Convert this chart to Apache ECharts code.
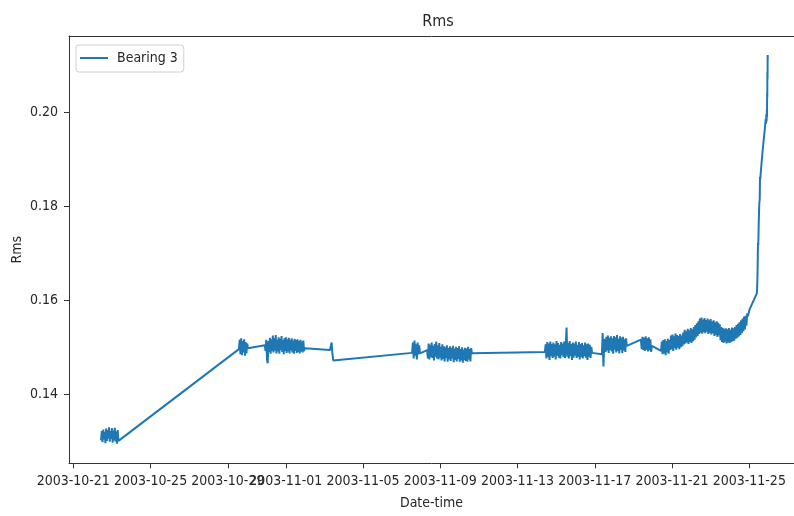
<!DOCTYPE html>
<html>
<head>
<meta charset="utf-8">
<script src="https://cdn.jsdelivr.net/npm/echarts@6/dist/echarts.min.js"></script>
<style>
  html, body { margin: 0; padding: 0; background: #fff; }
  #chart { width: 794px; height: 516px; }
</style>
</head>
<body>
<div id="chart"></div>
<script>
// RMS of bearing 3 vibration, recorded in bursts of 10-minute samples.
const seriesName = 'Bearing 3';

// Time span [first, last sample] of each recording burst (UTC).
const burstSpans = [
  ['2003-10-22T10:30', '2003-10-23T09:00'],
  ['2003-10-29T13:50', '2003-10-30T01:00'],
  ['2003-10-30T22:00', '2003-11-01T23:40'],
  ['2003-11-03T07:00', '2003-11-03T12:00'],
  ['2003-11-07T13:00', '2003-11-07T22:50'],
  ['2003-11-08T07:40', '2003-11-10T15:20'],
  ['2003-11-14T10:00', '2003-11-16T20:40'],
  ['2003-11-17T08:50', '2003-11-18T15:50'],
  ['2003-11-19T09:20', '2003-11-19T23:00'],
  ['2003-11-20T10:20', '2003-11-24T22:20']
];

// RMS readings for each burst, in recording order.
const burst1 = [0.1302, 0.1322, 0.1298, 0.1325, 0.1304, 0.1320, 0.1296, 0.1327, 0.1301, 0.1324, 0.1306, 0.1330, 0.1299,
  0.1322, 0.1305, 0.1328, 0.1297, 0.1323, 0.1302, 0.1329, 0.1300, 0.1321, 0.1295, 0.1324, 0.1301, 0.1300];
const burst2 = [0.1496, 0.1516, 0.1485, 0.1519, 0.1483, 0.1513, 0.1489, 0.1517, 0.1482, 0.1511, 0.1487, 0.1508, 0.1498];
const burst3 = [0.1504, 0.1492, 0.1516, 0.1474, 0.1466, 0.1513, 0.1490, 0.1520, 0.1486, 0.1517, 0.1492, 0.1525, 0.1489,
  0.1519, 0.1493, 0.1526, 0.1487, 0.1516, 0.1491, 0.1521, 0.1486, 0.1518, 0.1494, 0.1524, 0.1490, 0.1515, 0.1485, 0.1519,
  0.1492, 0.1521, 0.1488, 0.1517, 0.1491, 0.1520, 0.1487, 0.1516, 0.1493, 0.1519, 0.1489, 0.1514, 0.1486, 0.1518, 0.1492,
  0.1515, 0.1488, 0.1517, 0.1490, 0.1513, 0.1487, 0.1516, 0.1491, 0.1512, 0.1489, 0.1514, 0.1492, 0.1498];
const burst4 = [0.1494, 0.1493, 0.1510, 0.1486, 0.1472, 0.1470];
const burst5 = [0.1488, 0.1510, 0.1476, 0.1514, 0.1482, 0.1506, 0.1474, 0.1510, 0.1485, 0.1504, 0.1487];
const burst6 = [0.1494, 0.1476, 0.1508, 0.1474, 0.1505, 0.1479, 0.1510, 0.1477, 0.1503, 0.1472, 0.1507, 0.1480, 0.1512,
  0.1476, 0.1504, 0.1474, 0.1509, 0.1478, 0.1501, 0.1472, 0.1506, 0.1475, 0.1502, 0.1470, 0.1500, 0.1477, 0.1504, 0.1469,
  0.1498, 0.1474, 0.1502, 0.1471, 0.1499, 0.1476, 0.1503, 0.1468, 0.1497, 0.1473, 0.1501, 0.1470, 0.1498, 0.1475, 0.1502,
  0.1469, 0.1496, 0.1472, 0.1500, 0.1467, 0.1495, 0.1473, 0.1499, 0.1471, 0.1497, 0.1469, 0.1501, 0.1474, 0.1496, 0.1470,
  0.1498, 0.1487];
const burst7 = [0.1490, 0.1506, 0.1476, 0.1511, 0.1479, 0.1508, 0.1473, 0.1512, 0.1481, 0.1507, 0.1477, 0.1510, 0.1480,
  0.1506, 0.1474, 0.1513, 0.1482, 0.1509, 0.1478, 0.1505, 0.1476, 0.1511, 0.1483, 0.1508, 0.1479, 0.1512, 0.1477, 0.1506,
  0.1542, 0.1480, 0.1509, 0.1476, 0.1513, 0.1481, 0.1507, 0.1473, 0.1510, 0.1478, 0.1508, 0.1482, 0.1512, 0.1477, 0.1505,
  0.1480, 0.1511, 0.1474, 0.1507, 0.1479, 0.1509, 0.1476, 0.1504, 0.1481, 0.1510, 0.1478, 0.1506, 0.1473, 0.1508, 0.1480,
  0.1505, 0.1477, 0.1501, 0.1488];
const burst8 = [0.1485, 0.1530, 0.1459, 0.1500, 0.1518, 0.1490, 0.1522, 0.1493, 0.1525, 0.1488, 0.1520, 0.1494, 0.1523,
  0.1491, 0.1519, 0.1486, 0.1524, 0.1495, 0.1521, 0.1489, 0.1526, 0.1492, 0.1518, 0.1487, 0.1523, 0.1494, 0.1520, 0.1488,
  0.1522, 0.1493, 0.1517, 0.1490, 0.1519, 0.1503];
const burst9 = [0.1516, 0.1496, 0.1522, 0.1494, 0.1520, 0.1492, 0.1523, 0.1495, 0.1519, 0.1491, 0.1521, 0.1493, 0.1517,
  0.1490, 0.1503];
const burst10 = [
  0.1492, 0.1512, 0.1485, 0.1515, 0.1487, 0.1517, 0.1483, 0.1513, 0.1489, 0.1518, 0.1486, 0.1515,
  0.1494, 0.1525, 0.1496, 0.1527, 0.1492, 0.1523, 0.1498, 0.1529, 0.1495, 0.1526, 0.1499, 0.1524, 0.1496, 0.1528, 0.1500,
  0.1525, 0.1502,
  0.1531, 0.1506, 0.1537, 0.1508, 0.1534, 0.1510, 0.1539, 0.1507, 0.1536, 0.1511, 0.1541, 0.1509, 0.1538, 0.1513, 0.1543,
  0.1516,
  0.1547, 0.1521, 0.1551, 0.1524, 0.1555, 0.1528,
  0.1561, 0.1531, 0.1563, 0.1529, 0.1559, 0.1532, 0.1562, 0.1530, 0.1558, 0.1533, 0.1561, 0.1528, 0.1557, 0.1531, 0.1560,
  0.1527, 0.1555, 0.1530,
  0.1557, 0.1524, 0.1553, 0.1526, 0.1555, 0.1522, 0.1552, 0.1525, 0.1549,
  0.1515, 0.1543, 0.1511, 0.1541, 0.1509, 0.1539, 0.1512, 0.1540, 0.1508, 0.1538, 0.1510, 0.1541, 0.1509, 0.1537, 0.1511,
  0.1542, 0.1513, 0.1540, 0.1514, 0.1543,
  0.1518, 0.1547, 0.1520, 0.1550, 0.1523, 0.1553, 0.1526, 0.1557, 0.1530, 0.1561, 0.1534, 0.1565, 0.1538,
  0.1567, 0.1546, 0.1572, 0.1566];
const burstValues = [burst1, burst2, burst3, burst4, burst5, burst6, burst7, burst8, burst9, burst10];

// Final day before failure: individual readings.
const failureTimes = ['2003-11-25T00:15', '2003-11-25T09:30', '2003-11-25T10:10', '2003-11-25T10:50', '2003-11-25T11:10',
  '2003-11-25T11:40', '2003-11-25T12:25', '2003-11-25T12:55', '2003-11-25T13:20', '2003-11-25T13:35', '2003-11-25T15:10',
  '2003-11-25T17:00', '2003-11-25T19:30', '2003-11-25T20:20', '2003-11-25T20:50', '2003-11-25T21:10', '2003-11-25T21:30',
  '2003-11-25T21:50', '2003-11-25T22:00', '2003-11-25T22:10', '2003-11-25T22:20', '2003-11-25T22:30', '2003-11-25T22:40',
  '2003-11-25T22:50', '2003-11-25T23:00'];
const failureValues = [0.1580, 0.1615, 0.1650, 0.1722, 0.1716, 0.1760, 0.1806, 0.1813, 0.1862, 0.1857, 0.1890,
  0.1925, 0.1968, 0.1985, 0.1975, 0.1995, 0.1980, 0.2005, 0.1990, 0.2040, 0.2030, 0.2085, 0.2070, 0.2121, 0.2112];

// Axis ticks.
const dateTicks = ['2003-10-21', '2003-10-25', '2003-10-29', '2003-11-01', '2003-11-05', '2003-11-09',
  '2003-11-13', '2003-11-17', '2003-11-21', '2003-11-25'];
const rmsTicks = [0.14, 0.16, 0.18, 0.20];
const xRange = ['2003-10-20T18:40', '2003-11-27T07:33'];
const yRange = [0.12533, 0.21615];

const toMs = s => Date.parse(s.length > 10 ? s + ':00Z' : s + 'T00:00:00Z');

const data = [];
burstSpans.forEach((span, k) => {
  const vals = burstValues[k];
  const t0 = toMs(span[0]);
  const step = (toMs(span[1]) - t0) / (vals.length - 1);
  vals.forEach((v, i) => data.push([t0 + i * step, v]));
});
failureTimes.forEach((t, i) => data.push([toMs(t), failureValues[i]]));

const pad = n => String(n).padStart(2, '0');
const fmtDate = ms => {
  const d = new Date(ms);
  return d.getUTCFullYear() + '-' + pad(d.getUTCMonth() + 1) + '-' + pad(d.getUTCDate());
};

const FONT = "'DejaVu Sans Condensed', 'DejaVu Sans', sans-serif";
const TEXT = '#262626';
const AXIS = '#333';
const xMin = toMs(xRange[0]), xMax = toMs(xRange[1]);

const chart = echarts.init(document.getElementById('chart'), null, { renderer: 'canvas' });
chart.setOption({
  animation: false,
  backgroundColor: '#fff',
  title: {
    text: 'Rms',
    left: 433,
    top: 9,
    textAlign: 'center',
    textStyle: { fontFamily: FONT, fontSize: 16, fontWeight: 'normal', color: TEXT }
  },
  legend: {
    left: 76,
    top: 45,
    padding: [6, 6, 7, 4],
    itemWidth: 28,
    itemHeight: 2,
    icon: 'rect',
    borderColor: '#d0d0d0',
    borderWidth: 1,
    borderRadius: 3,
    backgroundColor: 'rgba(255,255,255,0.8)',
    textStyle: { fontFamily: FONT, fontSize: 14, color: TEXT, padding: [0, 0, 0, 4] },
    data: [seriesName]
  },
  grid: { left: 69, right: 0, top: 36, bottom: 52.7, containLabel: false, outerBoundsMode: 'none' },
  xAxis: [{
    type: 'value',
    min: xMin,
    max: xMax,
    name: 'Date-time',
    nameLocation: 'middle',
    nameGap: 33,
    nameMoveOverlap: false,
    nameTextStyle: { fontFamily: FONT, fontSize: 14, color: TEXT },
    axisLine: { show: true, lineStyle: { color: AXIS, width: 1 } },
    axisTick: { show: true, inside: false, length: 5, lineStyle: { color: AXIS },
      customValues: dateTicks.map(toMs) },
    axisLabel: { show: true, margin: 11, fontFamily: FONT, fontSize: 14, color: TEXT,
      customValues: dateTicks.map(toMs), formatter: v => fmtDate(v),
      hideOverlap: false, showMinLabel: true, showMaxLabel: true },
    splitLine: { show: false }
  }, {
    type: 'value',
    position: 'top',
    min: xMin,
    max: xMax,
    axisLine: { show: true, lineStyle: { color: AXIS, width: 1 } },
    axisTick: { show: false },
    axisLabel: { show: false },
    splitLine: { show: false }
  }],
  yAxis: {
    type: 'value',
    min: yRange[0],
    max: yRange[1],
    name: 'Rms',
    nameLocation: 'middle',
    nameGap: 45,
    nameMoveOverlap: false,
    nameTextStyle: { fontFamily: FONT, fontSize: 14, color: TEXT },
    axisLine: { show: true, lineStyle: { color: AXIS, width: 1 } },
    axisTick: { show: true, inside: false, length: 5, lineStyle: { color: AXIS }, customValues: rmsTicks },
    axisLabel: { show: true, margin: 11, fontFamily: FONT, fontSize: 14, color: TEXT,
      customValues: rmsTicks, formatter: v => v.toFixed(2), showMinLabel: true, showMaxLabel: true },
    splitLine: { show: false }
  },
  series: [{
    name: seriesName,
    type: 'line',
    xAxisIndex: 0,
    data: data,
    showSymbol: false,
    symbol: 'none',
    sampling: null,
    lineStyle: { color: '#1f77b4', width: 2 },
    itemStyle: { color: '#1f77b4' }
  }]
});
</script>
</body>
</html>
